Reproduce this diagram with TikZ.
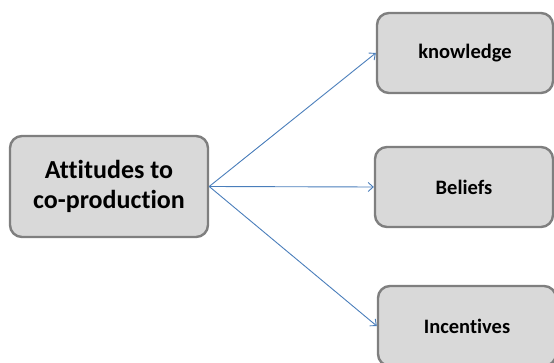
\documentclass[tikz,border=0pt]{standalone}
\usepackage{fontspec}
\setmainfont{Carlito}[Ligatures=CommonOff]
\usetikzlibrary{arrows.meta}
\definecolor{boxfill}{HTML}{D9D9D9}
\definecolor{boxline}{HTML}{7F7F7F}
\definecolor{linkblue}{HTML}{4A7EBB}
\tikzset{
  factor/.style={draw=boxline, fill=boxfill, line width=2.4pt, rounded corners=12pt,
    align=center, font=\bfseries, inner sep=0pt},
  small/.style={font=\bfseries\fontsize{20.5}{24}\selectfont},
  link/.style={draw=linkblue, line width=0.9pt, -{Straight Barb[length=5pt,width=9pt]}}
}
\begin{document}
\begin{tikzpicture}[x=1pt,y=1pt]
  \useasboundingbox (0,0) rectangle (554,362);
  \clip (0,0) rectangle (554,362);
  \node[factor, minimum width=198pt, minimum height=101pt, font=\bfseries\fontsize{26}{30}\selectfont]
    (att) at (109,175.5) {Attitudes to\\co-production};
  \node[factor, small, minimum width=176pt, minimum height=80pt] (know) at (465,309) {knowledge};
  \node[factor, small, minimum width=178pt, minimum height=80pt] (bel) at (464,175) {Beliefs};
  \node[factor, small, minimum width=178pt, minimum height=80pt] (inc) at (467,36) {Incentives};
  \draw[link] (att.east) -- (know.west);
  \draw[link] (att.east) -- (bel.west);
  \draw[link] (att.east) -- (inc.west);
\end{tikzpicture}
\end{document}
